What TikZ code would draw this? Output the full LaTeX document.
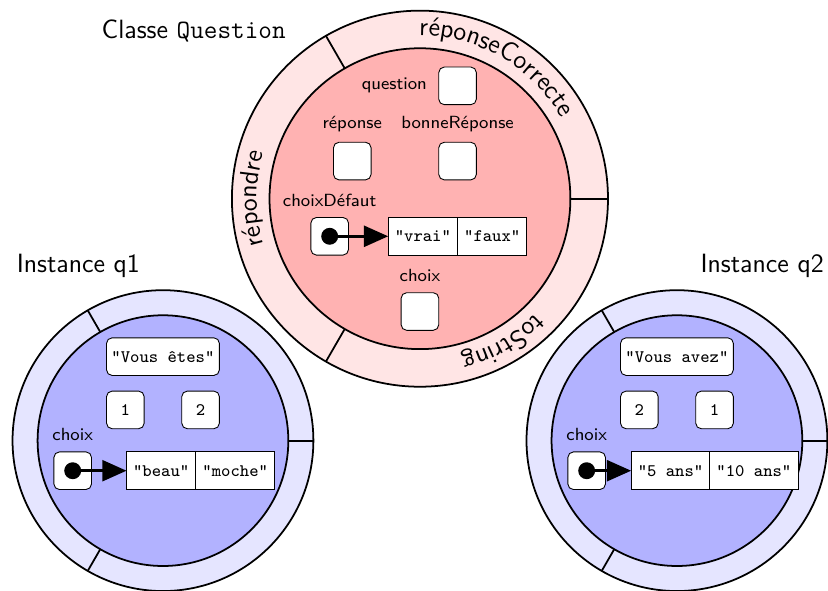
\documentclass[tikz,border=0pt]{standalone}
\usepackage{tikz}
\usetikzlibrary{positioning,arrows.meta,decorations.text,matrix}
\tikzset{
  varBox/.style={rectangle, rounded corners=2.5pt, fill=white, draw, minimum size=0.6cm, inner sep=2pt, font=\footnotesize\ttfamily},
  strBox/.style={varBox, minimum width=1.8cm},
  arrCell/.style={rectangle, fill=white, draw, minimum height=0.6cm, inner sep=3pt, outer sep=0pt, font=\footnotesize\ttfamily},
  varName/.style={font=\footnotesize\sffamily, inner sep=2pt},
  refDot/.style={circle, fill=black, minimum size=0.27cm, inner sep=0pt},
  pointsTo/.style={-{Triangle[length=11pt,width=9.5pt]}, line width=1.2pt},
  heading/.style={font=\large\sffamily},
  arcText/.style={decorate, decoration={text along path, text align=center, text={|\large\sffamily|#1}}}
}

\begin{document}
\begin{tikzpicture}
  \useasboundingbox (-6.70,-6.25) rectangle (6.51,3.17);

  % la classe
  \draw[thick, fill=red!10] (0,0) circle (3);
  \draw[thick, fill=red!30] (0,0) circle (2.4);
  \foreach \a in {0,120,240}
    \draw[thick] (\a:2.4) -- (\a:3);
  \path[arcText=réponseCorrecte] (120:2.6) arc[start angle=120, end angle=0, radius=2.6];
  \path[arcText=répondre] (240:2.6) arc[start angle=240, end angle=120, radius=2.6];
  \path[arcText=toString] (360:2.6) arc[start angle=360, end angle=240, radius=2.6];
  \node[heading] (classTitle) at (-3.61,2.67) {Classe \texttt{Question}};

  \node[varBox] (qBox) at (0.6,1.8) {};
  \node[varName, left=3pt of qBox] (qName) {question};
  \node[varBox] (repBox) at (-1.08,0.6) {};
  \node[varName, above=2.5pt of repBox] (repName) {réponse};
  \node[varBox] (bonneBox) at (0.6,0.6) {};
  \node[varName, above=2.5pt of bonneBox] (bonneName) {bonneRéponse};
  \node[varBox] (cdBox) at (-1.44,-0.6) {};
  \node[varName, above=2.5pt of cdBox] (cdName) {choixDéfaut};
  \node[refDot] (cdDot) at (cdBox.center) {};
  \matrix[column sep=-0.4pt] (cdArr) at (0.6,-0.6) {
    \node[arrCell] (vrai) {"vrai"}; & \node[arrCell] (faux) {"faux"}; \\
  };
  \draw[pointsTo] (cdDot.center) -- (vrai.west);
  \node[varBox] (choixBox) at (0,-1.8) {};
  \node[varName, above=2.5pt of choixBox] (choixName) {choix};

  % instance q1
  \begin{scope}[shift={(-4.1,-3.86)}]
    \draw[thick, fill=blue!10] (0,0) circle (2.4);
    \draw[thick, fill=blue!30] (0,0) circle (2);
    \foreach \a in {0,120,240}
      \draw[thick] (\a:2) -- (\a:2.4);
    \node[heading] (q1Title) at (-1.35,2.78) {Instance q1};
    \node[strBox] (q1Str) at (0,1.34) {"Vous êtes"};
    \node[varBox] (q1A) at (-0.6,0.49) {1};
    \node[varBox] (q1B) at (0.6,0.49) {2};
    \node[varBox] (q1Choix) at (-1.44,-0.48) {};
    \node[varName, above=2.5pt of q1Choix] (q1ChoixName) {choix};
    \node[refDot] (q1Dot) at (q1Choix.center) {};
    \matrix[column sep=-0.4pt] (q1Arr) at (0.6,-0.48) {
      \node[arrCell] (beau) {"beau"}; & \node[arrCell] (moche) {"moche"}; \\
    };
    \draw[pointsTo] (q1Dot.center) -- (beau.west);
  \end{scope}

  % instance q2
  \begin{scope}[shift={(4.1,-3.86)}]
    \draw[thick, fill=blue!10] (0,0) circle (2.4);
    \draw[thick, fill=blue!30] (0,0) circle (2);
    \foreach \a in {0,120,240}
      \draw[thick] (\a:2) -- (\a:2.4);
    \node[heading] (q2Title) at (1.36,2.78) {Instance q2};
    \node[strBox] (q2Str) at (0,1.34) {"Vous avez"};
    \node[varBox] (q2A) at (-0.6,0.49) {2};
    \node[varBox] (q2B) at (0.6,0.49) {1};
    \node[varBox] (q2Choix) at (-1.44,-0.48) {};
    \node[varName, above=2.5pt of q2Choix] (q2ChoixName) {choix};
    \node[refDot] (q2Dot) at (q2Choix.center) {};
    \matrix[column sep=-0.4pt] (q2Arr) at (0.6,-0.48) {
      \node[arrCell] (cinq) {"5 ans"}; & \node[arrCell] (dix) {"10 ans"}; \\
    };
    \draw[pointsTo] (q2Dot.center) -- (cinq.west);
  \end{scope}
\end{tikzpicture}
\end{document}
